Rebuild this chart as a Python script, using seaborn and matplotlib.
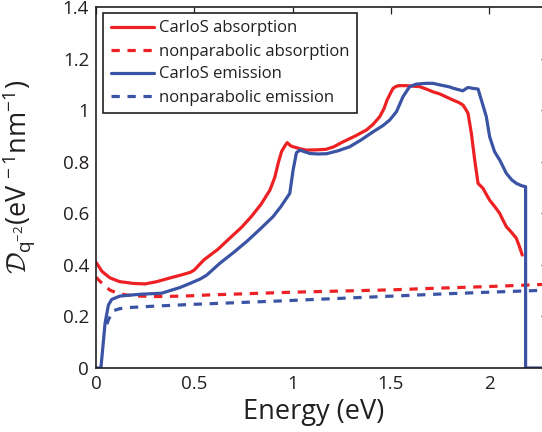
import matplotlib
matplotlib.use("Agg")
import matplotlib.pyplot as plt
import seaborn as sns
import pandas as pd

# ---------------- data ----------------
abs_energy = [0, 0.03, 0.07, 0.12, 0.19, 0.25, 0.31, 0.38, 0.43, 0.48, 0.50, 0.55,
              0.62, 0.68, 0.74, 0.79, 0.84, 0.885, 0.91, 0.927, 0.944, 0.96, 0.973,
              0.99, 1.003, 1.04, 1.07, 1.12, 1.17, 1.21, 1.257, 1.32, 1.376, 1.41,
              1.444, 1.465, 1.481, 1.50, 1.512, 1.53, 1.545, 1.58, 1.613, 1.647,
              1.68, 1.715, 1.749, 1.78, 1.817, 1.845, 1.867, 1.88, 1.893, 1.91,
              1.927, 1.944, 1.952, 1.969, 1.985, 2.003, 2.03, 2.054, 2.07, 2.088,
              2.11, 2.139, 2.155, 2.169]
abs_carlos = [0.41, 0.375, 0.35, 0.335, 0.328, 0.326, 0.335, 0.35, 0.36, 0.371, 0.38, 0.42,
              0.46, 0.503, 0.545, 0.587, 0.635, 0.69, 0.74, 0.794, 0.839, 0.86, 0.874,
              0.862, 0.858, 0.85, 0.845, 0.846, 0.848, 0.858, 0.877, 0.90, 0.923, 0.945,
              0.975, 1.005, 1.039, 1.068, 1.085, 1.093, 1.095, 1.095, 1.093, 1.091,
              1.082, 1.071, 1.063, 1.052, 1.039, 1.03, 1.02, 1.005, 0.988, 0.91,
              0.807, 0.716, 0.71, 0.697, 0.675, 0.651, 0.625, 0.60, 0.575, 0.548,
              0.53, 0.503, 0.47, 0.438]

em_energy = [0, 0.025, 0.046, 0.063, 0.08, 0.122, 0.224, 0.334, 0.376, 0.427, 0.478,
             0.53, 0.563, 0.63, 0.70, 0.766, 0.83, 0.901, 0.94, 0.969, 0.986, 1.003,
             1.02, 1.037, 1.088, 1.13, 1.173, 1.23, 1.291, 1.35, 1.41, 1.46, 1.495,
             1.529, 1.562, 1.596, 1.63, 1.68, 1.715, 1.749, 1.8, 1.817, 1.867, 1.88,
             1.893, 1.92, 1.944, 1.961, 1.986, 2.003, 2.028, 2.054, 2.088, 2.115,
             2.139, 2.165, 2.186, 2.186, 2.30]
em_carlos = [0, 0, 0.173, 0.244, 0.266, 0.279, 0.286, 0.29, 0.30, 0.312, 0.328,
             0.345, 0.36, 0.406, 0.448, 0.49, 0.535, 0.587, 0.625, 0.658, 0.677, 0.768,
             0.835, 0.845, 0.832, 0.83, 0.831, 0.842, 0.858, 0.885, 0.916, 0.94, 0.962,
             0.994, 1.052, 1.091, 1.101, 1.104, 1.104, 1.098, 1.09, 1.085, 1.075, 1.082,
             1.088, 1.084, 1.082, 1.039, 0.975, 0.897, 0.839, 0.807, 0.755, 0.73,
             0.716, 0.707, 0.703, 0, 0]

np_abs_energy = [0, 0.035, 0.071, 0.11, 0.156, 0.22, 0.31, 0.45, 0.563, 1.0, 1.5,
                 1.715, 2.0, 2.206, 2.3]
np_abs = [0.352, 0.325, 0.302, 0.29, 0.283, 0.279, 0.277, 0.279, 0.283, 0.294, 0.303,
          0.309, 0.316, 0.322, 0.325]

np_em_energy = [0.055, 0.065, 0.088, 0.12, 0.156, 0.3, 0.5, 0.935, 1.3, 1.757, 2.0, 2.3]
np_em = [0.17, 0.19, 0.222, 0.23, 0.234, 0.24, 0.247, 0.26, 0.272, 0.287, 0.294, 0.302]

labels = ["CarloS absorption", "nonparabolic absorption",
          "CarloS emission", "nonparabolic emission"]
x_ticks = [0, 0.5, 1, 1.5, 2]
x_ticklabels = ["0", "0.5", "1", "1.5", "2"]
y_ticks = [0, 0.2, 0.4, 0.6, 0.8, 1.0, 1.2, 1.4]
y_ticklabels = ["0", "0.2", "0.4", "0.6", "0.8", "1", "1.2", "1.4"]

# ---------------- style ----------------
sns.set_style("white")
plt.rcParams["font.family"] = ["Open Sans", "DejaVu Sans"]
plt.rcParams["mathtext.fontset"] = "custom"
plt.rcParams["mathtext.rm"] = "Open Sans"
plt.rcParams["mathtext.it"] = "Open Sans:italic"
plt.rcParams["mathtext.cal"] = "cmsy10"
plt.rcParams["axes.unicode_minus"] = False

RED = "#ED2124"
BLUE = "#3A53A4"
INK = "#231F20"
LW = 2.3
DASH = (0, (2.6, 2.4))

fig = plt.figure(figsize=(5.42, 4.32), dpi=100)
W, H = 542, 432
left, right = 96, 548
bottom, top = 368, 7
ax = fig.add_axes([left / W, 1 - bottom / H, (right - left) / W, (bottom - top) / H])

series = [
    (abs_energy, abs_carlos, RED, "-", labels[0]),
    (np_abs_energy, np_abs, RED, DASH, labels[1]),
    (em_energy, em_carlos, BLUE, "-", labels[2]),
    (np_em_energy, np_em, BLUE, DASH, labels[3]),
]
for xs, ys, col, ls, lab in series:
    df = pd.DataFrame({"Energy": xs, "D": ys})
    sns.lineplot(data=df, x="Energy", y="D", ax=ax, color=col, linestyle=ls,
                 linewidth=LW, estimator=None, sort=False, label=lab,
                 clip_on=True, solid_joinstyle="round")

ax.set_xlim(0, 2.3)
ax.set_ylim(0, 1.4)
ax.set_xticks(x_ticks)
ax.set_xticklabels(x_ticklabels)
ax.set_yticks(y_ticks)
ax.set_yticklabels(y_ticklabels)
ax.tick_params(direction="in", length=5, width=0.9, labelsize=13.5, colors=INK,
               top=True, right=True, pad=5)
for s in ax.spines.values():
    s.set_color(INK)
    s.set_linewidth(1.2)

ax.set_xlabel("Energy (eV)", fontsize=19.5, color=INK)
ax.set_ylabel(r"$\mathcal{D}_{\mathrm{q}^{-2}}$(eV$^{\,-1}$nm$^{-1}$)",
              fontsize=19.5, color=INK)
ax.xaxis.set_label_coords((314 - left) / (right - left), -0.082)
ax.yaxis.set_label_coords(-0.13, (bottom - 177) / (bottom - top))

leg = ax.legend(loc="upper left", bbox_to_anchor=(7 / (right - left), 1 - 6 / (bottom - top)),
                borderaxespad=0, frameon=True, fancybox=False, framealpha=1,
                edgecolor=INK, fontsize=12, handlelength=2.6,
                handletextpad=0.3, labelspacing=0.42, borderpad=0.45)
leg.get_frame().set_linewidth(1.2)
for t in leg.get_texts():
    t.set_color(INK)

fig.savefig("out.png", dpi=100)
